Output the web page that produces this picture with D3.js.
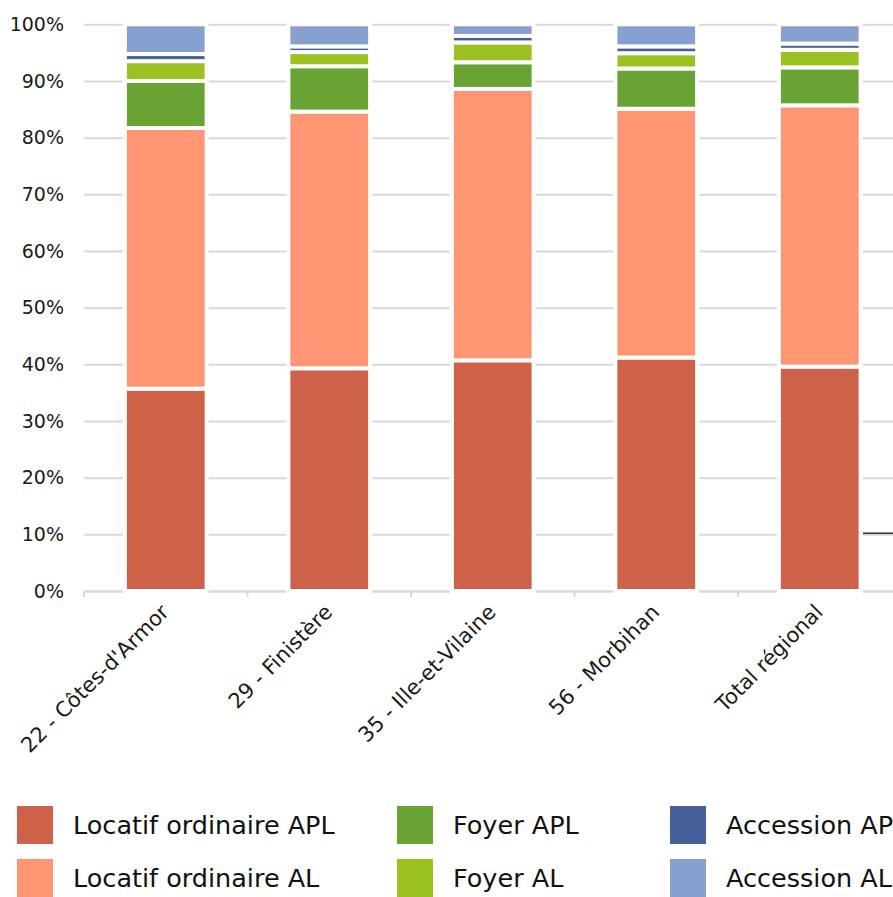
<!DOCTYPE html>
<html>
<head>
<meta charset="utf-8">
<script src="https://cdn.jsdelivr.net/npm/d3@7"></script>
<style>
  html, body { margin: 0; padding: 0; background: #fff; overflow: hidden; }
  svg { display: block; font-family: "DejaVu Sans", sans-serif; }
</style>
</head>
<body>
<svg id="chart" width="893" height="897"></svg>
<script>
// ---- Data ----
const categories = ["22 - Côtes-d'Armor", "29 - Finistère", "35 - Ille-et-Vilaine", "56 - Morbihan", "Total régional"];
const seriesNames = ["Locatif ordinaire APL", "Locatif ordinaire AL", "Foyer APL", "Foyer AL", "Accession APL", "Accession AL"];
const locatifAPL   = [35.7, 39.3, 40.7, 41.2, 39.6];
const locatifAL    = [46.0, 45.3, 47.9, 43.9, 46.1];
const foyerAPL     = [8.3, 8.0, 4.7, 7.1, 6.7];
const foyerAL      = [3.5, 2.5, 3.5, 2.7, 3.1];
const accessionAPL = [1.25, 1.0, 1.15, 1.2, 1.1];
const accessionAL  = [5.25, 3.9, 2.05, 3.9, 3.4];
const yTickValues  = [0, 10, 20, 30, 40, 50, 60, 70, 80, 90, 100];
const colors = ["#CE6249", "#FF9673", "#69A334", "#9BC122", "#46609C", "#87A0CF"];

const seriesValues = [locatifAPL, locatifAL, foyerAPL, foyerAL, accessionAPL, accessionAL];
const rows = categories.map((c, i) => {
  const r = { category: c };
  seriesNames.forEach((s, k) => { r[s] = seriesValues[k][i]; });
  return r;
});

// ---- Layout ----
const svg = d3.select("#chart");
const plotLeft = 84, plotTop = 24.3, plotBottom = 591;
const step = 163.5;
const plotRight = plotLeft + step * categories.length;

const x = d3.scaleBand().domain(categories).range([plotLeft, plotRight])
  .paddingInner(0.5).paddingOuter(0.25);
const y = d3.scaleLinear().domain([0, 100]).range([plotBottom, plotTop]);

// gridlines
const grid = svg.append("g").attr("transform", `translate(${plotLeft},0)`)
  .call(d3.axisLeft(y).tickValues(yTickValues).tickSize(-(plotRight - plotLeft)).tickFormat(""));
grid.select(".domain").remove();
grid.selectAll("line").attr("stroke", "#d9d9d9").attr("stroke-width", 2);

// y labels
const yAx = svg.append("g").attr("transform", `translate(64,0)`)
  .call(d3.axisLeft(y).tickValues(yTickValues).tickSize(0).tickPadding(0).tickFormat(d => d + "%"));
yAx.select(".domain").remove();
yAx.selectAll("text").attr("font-family", "'DejaVu Sans', sans-serif").attr("font-size", 19).attr("fill", "#1a1a1a");

// x axis base line + ticks at band boundaries
svg.append("line").attr("x1", plotLeft).attr("x2", plotRight + 20)
  .attr("y1", plotBottom + 0.5).attr("y2", plotBottom + 0.5)
  .attr("stroke", "#d9d9d9").attr("stroke-width", 2);
svg.append("g").selectAll("line").data(d3.range(categories.length + 1)).join("line")
  .attr("x1", i => plotLeft + i * x.step()).attr("x2", i => plotLeft + i * x.step())
  .attr("y1", plotBottom).attr("y2", plotBottom + 6)
  .attr("stroke", "#d9d9d9").attr("stroke-width", 2);

// bars
const stacked = d3.stack().keys(seriesNames)(rows);
svg.append("g").selectAll("g").data(stacked).join("g")
  .attr("fill", (d, i) => colors[i])
  .selectAll("rect").data(d => d).join("rect")
  .attr("x", d => x(d.data.category))
  .attr("width", x.bandwidth())
  .attr("y", d => y(d[1]))
  .attr("height", d => y(d[0]) - y(d[1]))
  .attr("stroke", "#fff").attr("stroke-width", 4);

// x labels
svg.append("g").selectAll("text").data(categories).join("text")
  .attr("transform", c => `translate(${x(c) + x.bandwidth() / 2 - 6},${plotBottom + 12}) rotate(-45)`)
  .attr("text-anchor", "end")
  .attr("dy", "0.7em")
  .attr("font-size", 21)
  .attr("fill", "#1a1a1a")
  .text(c => c);

// stray dark line fragment at right
svg.append("line").attr("x1", 863).attr("x2", 900)
  .attr("y1", y(10) - 1).attr("y2", y(10) - 1)
  .attr("stroke", "#333").attr("stroke-width", 1.5);

// legend
const legendCols = [17, 397, 670];
const legendRows = [806, 859];
const legend = svg.append("g").selectAll("g").data(seriesNames).join("g")
  .attr("transform", (d, i) => `translate(${legendCols[Math.floor(i / 2)]},${legendRows[i % 2]})`);
legend.append("rect").attr("width", 36).attr("height", 38).attr("fill", (d, i) => colors[i]);
legend.append("text").attr("x", 56).attr("y", 19).attr("dy", "0.36em")
  .attr("font-size", 25.5).attr("fill", "#111").text(d => d);
</script>
</body>
</html>
